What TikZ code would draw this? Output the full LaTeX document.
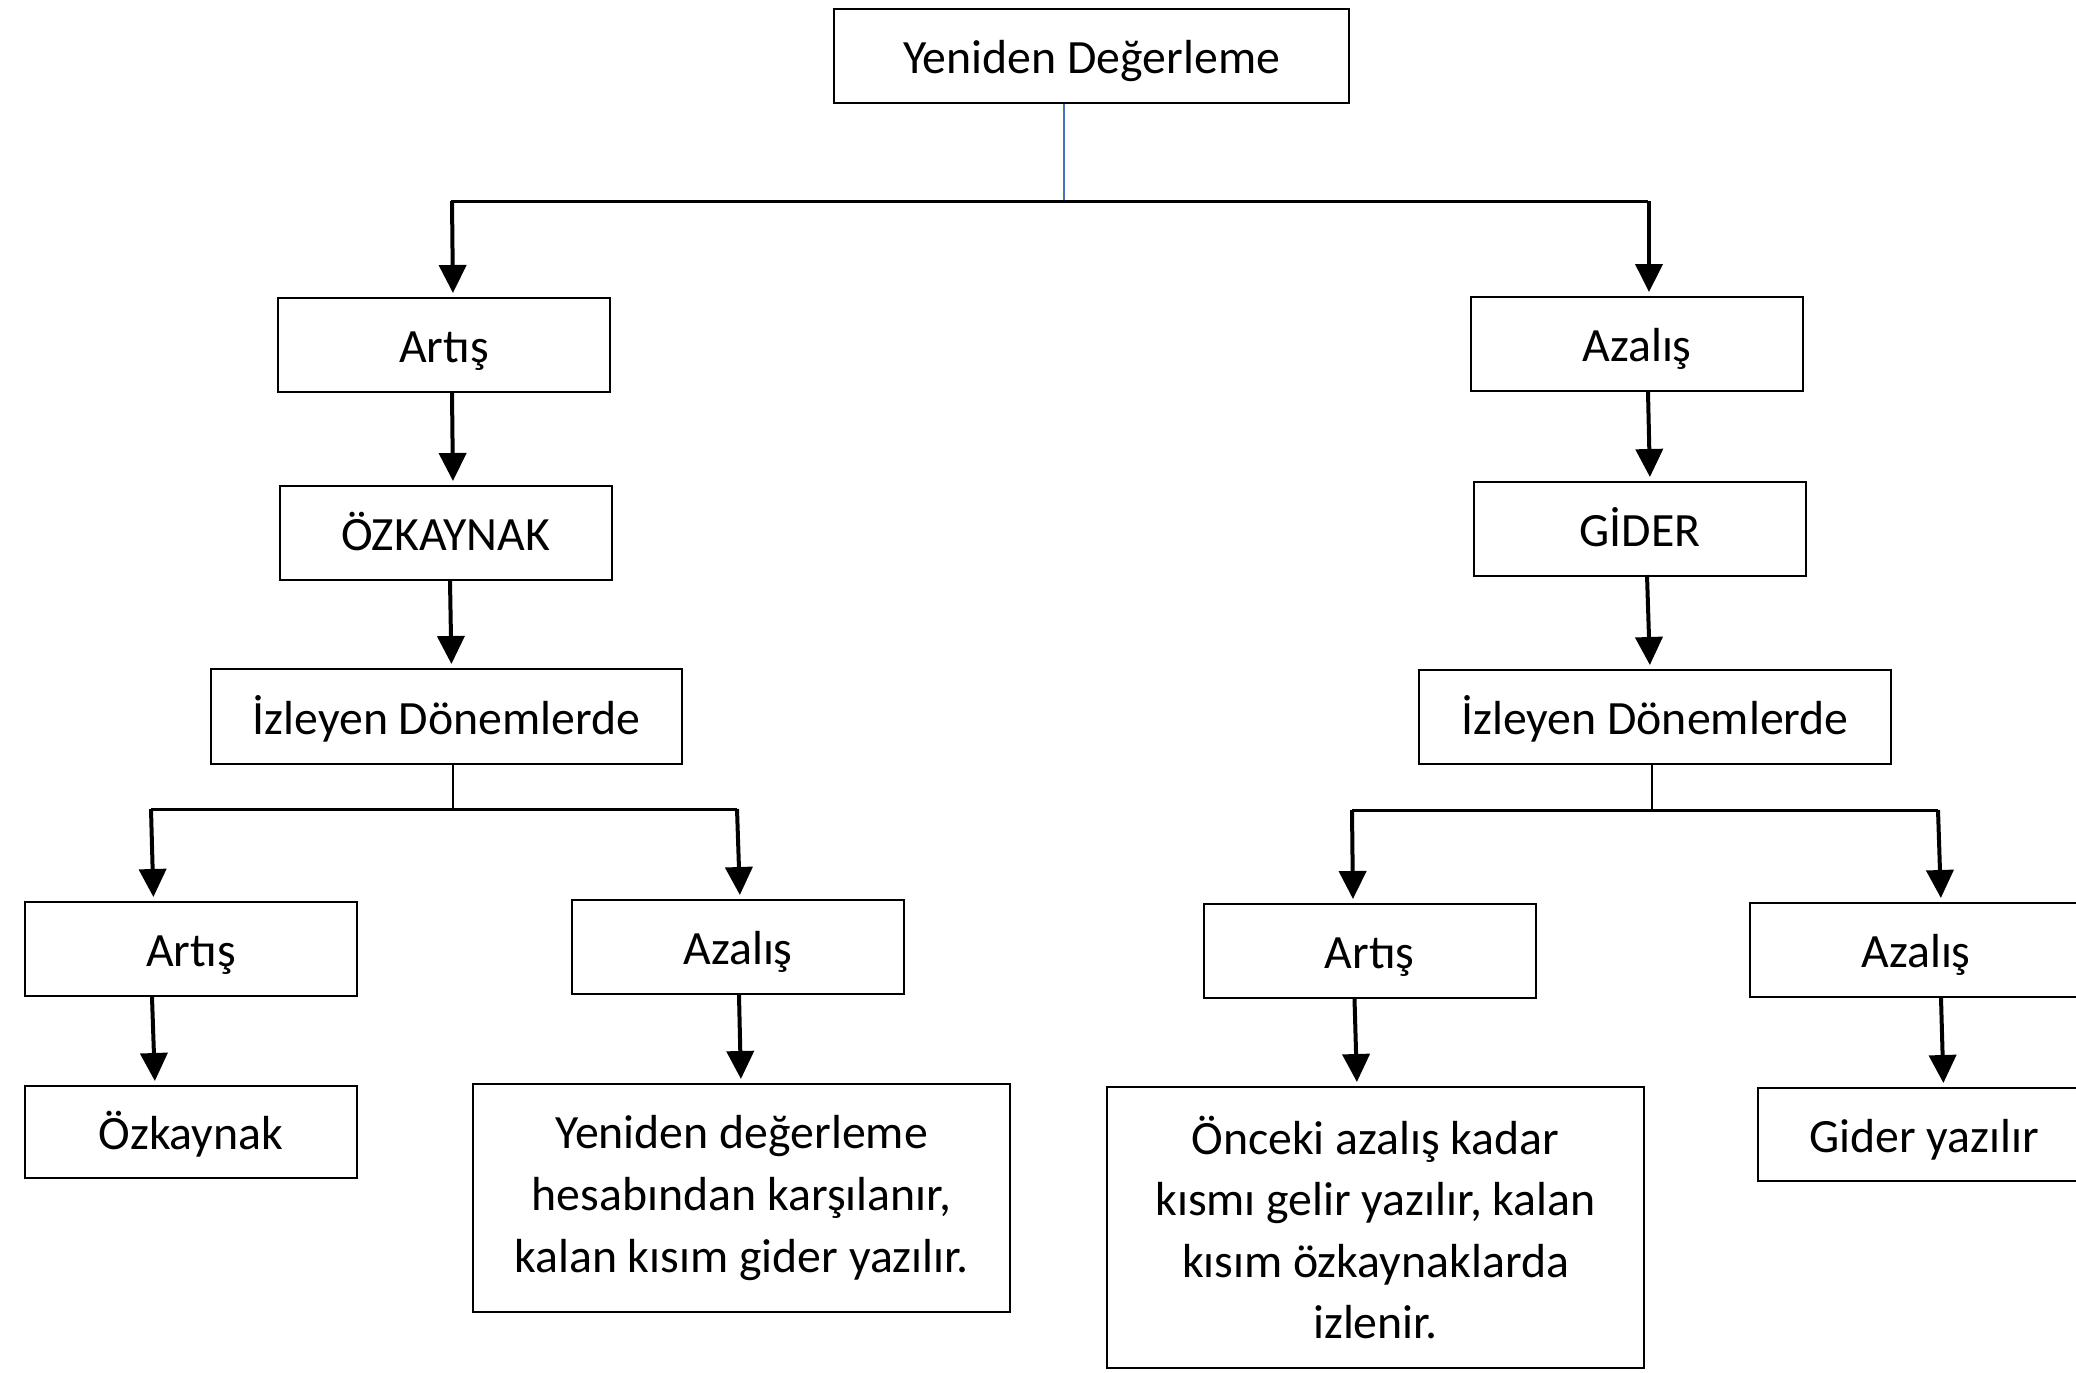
\documentclass[tikz,border=0pt]{standalone}
\usepackage{fontspec}
\setmainfont{Carlito}
\usetikzlibrary{arrows.meta}
\begin{document}
\begin{tikzpicture}[x=0.5pt,y=-0.5pt,
  box/.style={draw,line width=1pt,rectangle,inner sep=0pt,minimum width=166pt,minimum height=47pt,align=center,font=\fontsize{23.9}{30.8}\selectfont},
  onebox/.style={box,text height=18.6pt,text depth=1pt},
  arr/.style={line width=2pt,-{Triangle[width=13.5pt,length=14pt]},shorten >=2pt},
  hline/.style={line width=1.5pt},
  stem/.style={line width=1pt}]
\useasboundingbox (0,0) rectangle (2076,1372);
\clip (0,0) rectangle (2076,1372);
% nodes
\node[onebox,minimum width=257.5pt] (top) at (1091.5,56) {Yeniden Değerleme};
\node[onebox] (artisL) at (444,345) {Artış};
\node[onebox] (azalisR) at (1637,344) {Azalış};
\node[onebox] (ozk) at (445.5,533) {ÖZKAYNAK};
\node[onebox] (gider) at (1640,529) {GİDER};
\node[onebox,minimum width=235.5pt,minimum height=47.5pt] (izL) at (446.5,716.5) {İzleyen Dönemlerde};
\node[onebox,minimum width=236pt] (izR) at (1655,717) {İzleyen Dönemlerde};
\node[onebox] (artisLL) at (191,949) {Artış};
\node[onebox] (azalisLR) at (738,947) {Azalış};
\node[onebox] (artisRL) at (1369.5,951) {Artış};
\node[onebox] (azalisRR) at (1916,950) {Azalış};
\node[onebox,minimum height=46pt] (ozkLL) at (191,1132) {Özkaynak};
\node[box,minimum width=268.5pt,minimum height=114pt] (yenLR) at (741.5,1198) {Yeniden değerleme\\hesabından karşılanır,\\kalan kısım gider yazılır.};
\node[box,minimum width=268.5pt,minimum height=140.5pt] (oncRL) at (1375.5,1227.5) {Önceki azalış kadar\\kısmı gelir yazılır, kalan\\kısım özkaynaklarda\\izlenir.};
\node[onebox,minimum height=46.5pt] (giderRR) at (1924,1134.5) {Gider yazılır};
% top branching
\coordinate (hT) at (1064,201);
\coordinate (hL1) at (451,201);
\coordinate (hR1) at (1648,201);
\draw[line width=0.8pt,color={rgb,255:red,68;green,114;blue,196}] (top.south -| hT) -- (hT);
\draw[hline] (hL1) -- (hR1);
\draw[arr] ([xshift=0.5pt]hL1) -- ([xshift=4.5pt]artisL.north);
\draw[arr] ([xshift=0.5pt]hR1) -- ([xshift=6pt]azalisR.north);
\draw[arr] ([xshift=4pt]artisL.south) -- ([xshift=3.75pt]ozk.north);
\draw[arr] ([xshift=5.5pt]azalisR.south) -- ([xshift=5pt]gider.north);
\draw[arr] ([xshift=2.25pt]ozk.south) -- ([xshift=2.5pt]izL.north);
\draw[arr] ([xshift=3.5pt,yshift=1pt]gider.south) -- ([xshift=-2.5pt]izR.north);
% lower left branching
\coordinate (bL1) at (151,809);
\coordinate (bL2) at (737,809);
\draw[stem] ([xshift=3.25pt]izL.south) -- ([xshift=3.25pt]izL.south |- bL1);
\draw[hline] (bL1) -- (bL2);
\draw[arr] (bL1) -- ([xshift=-18.75pt]artisLL.north);
\draw[arr] (bL2) -- ([xshift=1pt]azalisLR.north);
% lower right branching
\coordinate (bR1) at (1352,810);
\coordinate (bR2) at (1938,810);
\draw[stem] ([xshift=-1.5pt]izR.south) -- ([xshift=-1.5pt]izR.south |- bR1);
\draw[hline] (bR1) -- (bR2);
\draw[arr] (bR1) -- ([xshift=-8.25pt]artisRL.north);
\draw[arr] (bR2) -- ([xshift=12.5pt]azalisRR.north);
% final arrows
\draw[arr] ([xshift=-19.5pt]artisLL.south) -- ([xshift=-18pt]ozkLL.north);
\draw[arr] ([xshift=0.5pt]azalisLR.south) -- ([xshift=-0.25pt]yenLR.north);
\draw[arr] ([xshift=-7.5pt]artisRL.south) -- ([xshift=-9.25pt]oncRL.north);
\draw[arr] ([xshift=12.5pt]azalisRR.south) -- ([xshift=9.75pt]giderRR.north);
\end{tikzpicture}
\end{document}
